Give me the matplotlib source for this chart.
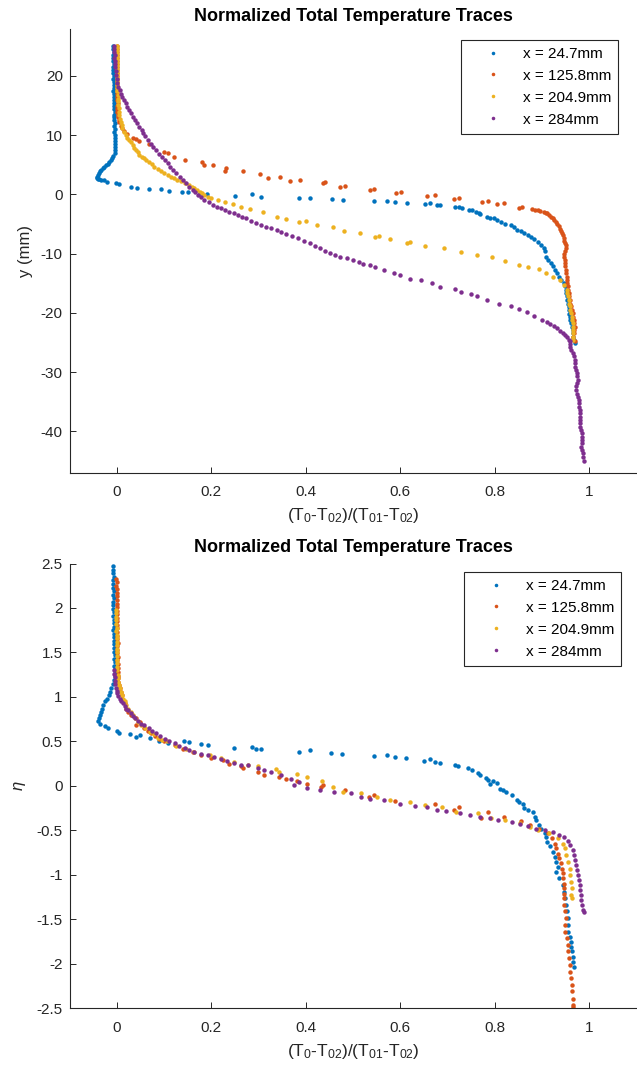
import numpy as np
import matplotlib
matplotlib.use('Agg')
import matplotlib.pyplot as plt
from matplotlib.ticker import FuncFormatter

# series labels and MATLAB default colours
labels = ['x = 24.7mm', 'x = 125.8mm', 'x = 204.9mm', 'x = 284mm']
colors = ['#0072BD', '#D95319', '#EDB120', '#7E2F8E']

# ---- top panel: (T0-T02)/(T01-T02) vs y (mm) ----
top_blue = [
    (-0.008, 25.0), (-0.009, 24.5), (-0.007, 24.0), (-0.008, 23.5), (-0.009, 23.0), (-0.008, 22.5),
    (-0.007, 22.0), (-0.008, 21.5), (-0.009, 21.0), (-0.008, 20.5), (-0.007, 20.0), (-0.008, 19.5),
    (-0.007, 19.0), (-0.006, 18.5), (-0.007, 18.0), (-0.008, 17.5), (-0.007, 17.0), (-0.006, 16.5),
    (-0.007, 16.0), (-0.006, 15.5), (-0.007, 15.0), (-0.006, 14.5), (-0.005, 14.0), (-0.006, 13.5),
    (-0.007, 13.0), (-0.006, 12.5), (-0.005, 12.0), (-0.006, 11.5), (-0.005, 11.0), (-0.006, 10.5),
    (-0.005, 10.0), (-0.004, 9.5), (-0.005, 9.0), (-0.004, 8.5), (-0.005, 8.0), (-0.004, 7.5),
    (-0.005, 7.0), (-0.008, 6.5), (-0.010, 6.1), (-0.013, 5.8), (-0.017, 5.5), (-0.020, 5.2),
    (-0.024, 5.0), (-0.027, 4.7), (-0.030, 4.4), (-0.033, 4.1), (-0.035, 3.9), (-0.038, 3.6),
    (-0.040, 3.3), (-0.042, 3.0), (-0.043, 2.8), (-0.041, 2.6), (-0.038, 2.6), (-0.033, 2.5),
    (-0.028, 2.4), (-0.021, 2.17), (-0.003, 1.88), (0.004, 1.72), (0.029, 1.32), (0.043, 1.15),
    (0.068, 0.93), (0.093, 0.87), (0.111, 0.65), (0.138, 0.37), (0.150, 0.48), (0.175, 0.20),
    (0.191, 0.08), (0.249, -0.20), (0.287, 0.03), (0.306, -0.37), (0.386, -0.65), (0.409, -0.53),
    (0.455, -0.76), (0.478, -0.87), (0.545, -1.10), (0.573, -1.04), (0.589, -1.21), (0.614, -1.38),
    (0.653, -1.60), (0.664, -1.49), (0.678, -1.77), (0.685, -1.83), (0.717, -2.05), (0.724, -2.17),
    (0.730, -2.30), (0.745, -2.62), (0.752, -2.67), (0.760, -2.90), (0.767, -3.18), (0.770, -3.35),
    (0.784, -3.74), (0.790, -3.90), (0.798, -4.02), (0.805, -4.30), (0.813, -4.58), (0.823, -4.92),
    (0.834, -5.15), (0.840, -5.50), (0.848, -5.99), (0.855, -6.20), (0.862, -6.55), (0.870, -6.90),
    (0.877, -7.12), (0.884, -7.50), (0.891, -7.96), (0.898, -8.50), (0.905, -9.09), (0.906, -9.60),
    (0.909, -10.5), (0.914, -11.0), (0.919, -11.6), (0.923, -12.1), (0.928, -12.7), (0.932, -13.3),
    (0.937, -13.9), (0.941, -14.4), (0.946, -15.0), (0.949, -15.5), (0.951, -16.1), (0.952, -16.6),
    (0.954, -17.2), (0.954, -17.8), (0.956, -18.4), (0.957, -19.0), (0.957, -19.5), (0.958, -20.1),
    (0.960, -20.6), (0.960, -21.2), (0.962, -21.7), (0.963, -22.3), (0.965, -22.9), (0.966, -23.4),
    (0.967, -24.0), (0.969, -24.6), (0.970, -25.0),
]
top_orange = [
    (0.000, 25.0), (-0.001, 24.5), (0.001, 24.0), (0.000, 23.5), (-0.001, 23.0), (0.000, 22.5),
    (0.001, 22.0), (0.000, 21.5), (-0.001, 21.0), (0.000, 20.5), (0.001, 20.0), (0.000, 19.5),
    (0.001, 19.0), (0.000, 18.5), (-0.001, 18.0), (0.000, 17.5), (0.001, 17.0), (0.000, 16.5),
    (0.001, 16.0), (0.002, 15.5), (0.001, 15.0), (0.000, 14.5), (0.001, 14.0), (0.002, 13.5),
    (0.003, 13.0), (0.004, 12.5), (0.005, 12.2), (0.008, 11.6), (0.011, 11.2), (0.015, 10.8),
    (0.022, 10.2), (0.033, 9.6), (0.040, 9.3), (0.047, 9.0), (0.068, 8.6), (0.100, 7.2),
    (0.107, 6.95), (0.121, 6.4), (0.143, 5.8), (0.180, 5.5), (0.185, 4.9), (0.203, 5.0),
    (0.228, 3.9), (0.231, 4.4), (0.267, 4.0), (0.302, 3.5), (0.320, 2.7), (0.345, 3.0),
    (0.366, 2.3), (0.387, 2.4), (0.437, 1.9), (0.440, 2.05), (0.472, 1.2), (0.483, 1.4),
    (0.536, 0.76), (0.545, 0.93), (0.591, 0.2), (0.601, 0.48), (0.657, -0.25), (0.674, -0.03),
    (0.713, -0.76), (0.724, -0.53), (0.774, -1.21), (0.786, -1.04), (0.804, -1.60), (0.820, -1.49),
    (0.852, -2.22), (0.857, -2.05), (0.880, -2.50), (0.886, -2.55), (0.891, -2.67), (0.897, -2.80),
    (0.904, -2.90), (0.908, -3.05), (0.912, -3.18), (0.916, -3.45), (0.920, -3.74), (0.923, -4.0),
    (0.926, -4.30), (0.930, -4.65), (0.933, -5.0), (0.936, -5.4), (0.939, -5.8), (0.941, -6.1),
    (0.943, -6.5), (0.945, -6.9), (0.946, -7.4), (0.948, -7.8), (0.950, -8.2), (0.951, -8.6),
    (0.951, -9.1), (0.950, -9.6), (0.948, -10.1), (0.948, -10.5), (0.949, -11.0), (0.949, -11.6),
    (0.950, -12.1), (0.951, -12.7), (0.952, -13.3), (0.953, -13.9), (0.953, -14.4), (0.953, -15.0),
    (0.955, -15.5), (0.956, -16.1), (0.957, -16.6), (0.958, -17.2), (0.959, -17.8), (0.960, -18.4),
    (0.962, -18.9), (0.963, -19.5), (0.965, -20.0), (0.967, -20.6), (0.968, -21.2), (0.969, -21.7),
    (0.970, -22.3), (0.969, -22.9), (0.968, -23.4), (0.967, -24.0), (0.970, -24.7),
]
top_yellow = [
    (0.000, 25.0), (0.001, 24.5), (0.000, 24.0), (-0.001, 23.5), (0.000, 23.0), (0.001, 22.5),
    (0.000, 22.0), (0.000, 21.5), (-0.001, 21.0), (0.000, 20.5), (0.001, 20.0), (0.000, 19.5),
    (0.000, 19.0), (0.001, 18.5), (0.001, 18.0), (0.001, 17.4), (0.002, 16.8), (0.002, 16.2),
    (0.003, 15.7), (0.003, 15.1), (0.004, 14.6), (0.004, 14.0), (0.005, 13.4), (0.007, 12.8),
    (0.008, 12.3), (0.010, 11.7), (0.011, 11.2), (0.014, 10.6), (0.018, 10.0), (0.022, 9.6),
    (0.026, 9.2), (0.030, 8.8), (0.033, 8.35), (0.037, 7.9), (0.040, 7.5), (0.044, 7.1),
    (0.047, 6.7), (0.052, 6.4), (0.057, 6.1), (0.062, 5.8), (0.068, 5.5), (0.074, 5.1),
    (0.079, 4.7), (0.086, 4.35), (0.093, 4.0), (0.100, 3.65), (0.107, 3.3), (0.114, 3.0),
    (0.121, 2.7), (0.128, 2.45), (0.136, 2.2), (0.144, 1.9), (0.153, 1.6), (0.158, 1.3),
    (0.164, 1.04), (0.170, 0.75), (0.175, 0.48), (0.180, 0.2), (0.185, -0.08), (0.192, -0.35),
    (0.199, -0.65), (0.213, -0.93), (0.228, -1.21), (0.245, -1.60), (0.263, -2.05), (0.281, -2.50),
    (0.309, -2.90), (0.338, -3.74), (0.359, -4.13), (0.386, -4.58), (0.400, -4.47), (0.423, -5.15),
    (0.458, -5.43), (0.481, -6.16), (0.515, -6.55), (0.547, -7.12), (0.556, -7.0), (0.579, -7.57),
    (0.614, -8.24), (0.621, -8.07), (0.653, -8.63), (0.692, -9.09), (0.728, -9.65), (0.763, -10.2),
    (0.795, -10.6), (0.821, -11.2), (0.852, -11.9), (0.871, -12.2), (0.894, -12.6), (0.909, -13.3),
    (0.923, -13.9), (0.939, -14.5), (0.948, -15.3), (0.953, -16.1), (0.954, -16.6), (0.956, -17.2),
    (0.957, -17.8), (0.958, -18.4), (0.959, -18.9), (0.960, -19.5), (0.961, -20.0), (0.963, -20.6),
    (0.964, -21.1), (0.965, -21.7), (0.966, -22.3), (0.967, -22.9), (0.967, -23.4), (0.967, -24.0),
    (0.966, -24.6),
]
top_purple = [
    (-0.006, 25.0), (-0.007, 24.5), (-0.006, 24.0), (-0.005, 23.5), (-0.006, 23.0), (-0.005, 22.5),
    (-0.004, 22.0), (-0.004, 21.5), (-0.003, 20.8), (-0.002, 20.2), (0.000, 19.5), (0.001, 18.8),
    (0.003, 18.2), (0.006, 17.6), (0.008, 17.0), (0.011, 16.5), (0.014, 15.9), (0.018, 15.4),
    (0.022, 14.8), (0.026, 14.3), (0.030, 13.7), (0.034, 13.1), (0.038, 12.5), (0.043, 12.0),
    (0.047, 11.4), (0.052, 10.9), (0.056, 10.3), (0.060, 9.8), (0.066, 9.2), (0.072, 8.6),
    (0.077, 8.0), (0.082, 7.5), (0.088, 6.9), (0.095, 6.4), (0.101, 5.8), (0.107, 5.3),
    (0.113, 4.7), (0.119, 4.1), (0.126, 3.6), (0.133, 3.0), (0.139, 2.4), (0.146, 1.9),
    (0.153, 1.3), (0.160, 0.76), (0.166, 0.35), (0.171, -0.08), (0.178, -0.5), (0.185, -0.93),
    (0.194, -1.35), (0.203, -1.77), (0.212, -2.05), (0.221, -2.33), (0.229, -2.6), (0.237, -2.90),
    (0.247, -3.2), (0.256, -3.46), (0.265, -3.75), (0.274, -4.02), (0.284, -4.45), (0.294, -4.87),
    (0.305, -5.15), (0.316, -5.43), (0.327, -5.7), (0.338, -5.99), (0.348, -6.35), (0.359, -6.72),
    (0.371, -7.05), (0.384, -7.4), (0.396, -7.8), (0.409, -8.24), (0.420, -8.65), (0.430, -9.09),
    (0.440, -9.5), (0.451, -9.93), (0.462, -10.2), (0.472, -10.5), (0.487, -10.8), (0.501, -11.1),
    (0.512, -11.4), (0.522, -11.7), (0.535, -11.95), (0.547, -12.2), (0.565, -12.7), (0.586, -13.2),
    (0.600, -13.6), (0.621, -14.2), (0.643, -14.4), (0.668, -15.0), (0.685, -15.6), (0.717, -16.0),
    (0.728, -16.4), (0.749, -16.8), (0.763, -17.2), (0.784, -17.8), (0.809, -18.4), (0.834, -18.8),
    (0.852, -19.4), (0.869, -19.9), (0.884, -20.5), (0.901, -21.2), (0.910, -21.5), (0.918, -21.9),
    (0.925, -22.2), (0.932, -22.6), (0.938, -23.0), (0.944, -23.4), (0.949, -23.8), (0.954, -24.1),
    (0.957, -24.5), (0.960, -24.8), (0.959, -25.2), (0.960, -25.7), (0.962, -26.2), (0.965, -26.8),
    (0.968, -27.3), (0.970, -27.9), (0.971, -28.5), (0.970, -29.1), (0.972, -29.6), (0.974, -30.2),
    (0.975, -30.7), (0.976, -31.3), (0.975, -31.9), (0.973, -32.4), (0.973, -33.0), (0.974, -33.6),
    (0.976, -34.1), (0.978, -34.7), (0.978, -35.2), (0.979, -35.8), (0.980, -36.4), (0.981, -36.9),
    (0.981, -37.5), (0.980, -38.1), (0.980, -38.6), (0.981, -39.2), (0.983, -39.8), (0.985, -40.3),
    (0.985, -40.9), (0.986, -41.4), (0.985, -42.0), (0.984, -42.6), (0.985, -43.1), (0.987, -43.7),
    (0.988, -44.3), (0.990, -44.9),
]

# ---- bottom panel: same quantity vs eta ----
bot_blue = [
    (-0.008, 2.47), (-0.009, 2.43), (-0.008, 2.39), (-0.007, 2.35), (-0.008, 2.31), (-0.009, 2.27),
    (-0.008, 2.23), (-0.007, 2.19), (-0.008, 2.15), (-0.007, 2.11), (-0.008, 2.07), (-0.009, 2.03),
    (-0.008, 1.99), (-0.007, 1.95), (-0.008, 1.91), (-0.007, 1.87), (-0.006, 1.83), (-0.007, 1.79),
    (-0.008, 1.75), (-0.007, 1.71), (-0.006, 1.67), (-0.007, 1.63), (-0.006, 1.59), (-0.007, 1.55),
    (-0.006, 1.51), (-0.005, 1.47), (-0.006, 1.43), (-0.005, 1.39), (-0.006, 1.35), (-0.005, 1.31),
    (-0.004, 1.27), (-0.005, 1.23), (-0.006, 1.19), (-0.008, 1.15), (-0.012, 1.10), (-0.015, 1.06),
    (-0.018, 1.02), (-0.022, 0.98), (-0.026, 0.95), (-0.029, 0.91), (-0.032, 0.87), (-0.034, 0.83),
    (-0.036, 0.80), (-0.039, 0.76), (-0.041, 0.73), (-0.036, 0.70), (-0.026, 0.67), (-0.019, 0.65),
    (-0.001, 0.62), (0.004, 0.60), (0.027, 0.58), (0.041, 0.55), (0.048, 0.57), (0.069, 0.54),
    (0.090, 0.50), (0.108, 0.48), (0.141, 0.50), (0.153, 0.49), (0.177, 0.47), (0.192, 0.46),
    (0.248, 0.43), (0.285, 0.44), (0.294, 0.42), (0.305, 0.41), (0.385, 0.38), (0.408, 0.40),
    (0.454, 0.37), (0.477, 0.36), (0.544, 0.34), (0.572, 0.35), (0.589, 0.32), (0.612, 0.31),
    (0.651, 0.28), (0.663, 0.30), (0.674, 0.27), (0.684, 0.26), (0.716, 0.23), (0.723, 0.22),
    (0.744, 0.20), (0.751, 0.18), (0.765, 0.14), (0.769, 0.12), (0.781, 0.09), (0.786, 0.07),
    (0.790, 0.02), (0.797, 0.05), (0.804, 0.03), (0.812, -0.03), (0.818, -0.05), (0.825, -0.065),
    (0.836, -0.10), (0.847, -0.16), (0.852, -0.18), (0.860, -0.20), (0.863, -0.25), (0.870, -0.27),
    (0.881, -0.29), (0.885, -0.35), (0.887, -0.38), (0.895, -0.44), (0.899, -0.48), (0.906, -0.53),
    (0.908, -0.57), (0.911, -0.63), (0.918, -0.68), (0.923, -0.74), (0.927, -0.80), (0.930, -0.85),
    (0.934, -0.91), (0.930, -0.97), (0.937, -1.04), (0.945, -1.11), (0.948, -1.19), (0.950, -1.26),
    (0.952, -1.34), (0.953, -1.41), (0.955, -1.49), (0.955, -1.56), (0.956, -1.64), (0.960, -1.70),
    (0.961, -1.75), (0.962, -1.81), (0.963, -1.86), (0.966, -1.92), (0.967, -1.98), (0.969, -2.04),
]
bot_orange = [
    (-0.002, 2.33), (-0.001, 2.29), (-0.002, 2.25), (-0.001, 2.21), (0.000, 2.17), (-0.001, 2.13),
    (0.000, 2.09), (-0.001, 2.05), (0.000, 2.01), (0.001, 1.97), (0.000, 1.93), (-0.001, 1.89),
    (0.000, 1.85), (0.001, 1.81), (0.000, 1.77), (0.001, 1.73), (0.000, 1.69), (0.001, 1.65),
    (0.002, 1.61), (0.001, 1.57), (0.000, 1.53), (0.001, 1.49), (0.002, 1.45), (0.001, 1.41),
    (0.002, 1.37), (0.002, 1.32), (0.002, 1.28), (0.002, 1.24), (0.002, 1.21), (0.003, 1.17),
    (0.004, 1.13), (0.006, 1.10), (0.008, 1.06), (0.010, 1.02), (0.011, 0.98), (0.016, 0.93),
    (0.020, 0.87), (0.023, 0.83), (0.030, 0.80), (0.041, 0.76), (0.048, 0.72), (0.041, 0.68),
    (0.058, 0.65), (0.065, 0.62), (0.072, 0.59), (0.080, 0.56), (0.090, 0.53), (0.100, 0.50),
    (0.122, 0.46), (0.139, 0.42), (0.160, 0.38), (0.178, 0.35), (0.199, 0.31), (0.224, 0.29),
    (0.238, 0.25), (0.262, 0.22), (0.266, 0.20), (0.298, 0.16), (0.312, 0.12), (0.343, 0.10),
    (0.357, 0.08), (0.382, 0.05), (0.403, 0.02), (0.437, 0.01), (0.433, -0.01), (0.484, -0.05),
    (0.544, -0.10), (0.533, -0.12), (0.589, -0.17), (0.674, -0.20), (0.724, -0.24), (0.713, -0.27),
    (0.786, -0.29), (0.820, -0.35), (0.772, -0.36), (0.855, -0.40), (0.874, -0.44), (0.895, -0.48),
    (0.913, -0.53), (0.922, -0.59), (0.927, -0.65), (0.930, -0.70), (0.934, -0.76), (0.937, -0.81),
    (0.941, -0.87), (0.943, -0.93), (0.944, -0.98), (0.944, -1.04), (0.946, -1.10), (0.948, -1.15),
    (0.946, -1.21), (0.946, -1.26), (0.948, -1.34), (0.950, -1.41), (0.952, -1.49), (0.950, -1.56),
    (0.950, -1.64), (0.953, -1.71), (0.955, -1.79), (0.955, -1.86), (0.957, -1.94), (0.959, -2.01),
    (0.960, -2.09), (0.962, -2.16), (0.963, -2.24), (0.964, -2.31), (0.966, -2.39), (0.966, -2.46),
    (0.967, -2.49),
]
bot_yellow = [
    (-0.003, 1.98), (-0.002, 1.94), (-0.003, 1.90), (-0.002, 1.86), (-0.002, 1.82), (-0.001, 1.78),
    (-0.002, 1.74), (-0.001, 1.70), (-0.001, 1.66), (0.000, 1.62), (-0.001, 1.58), (0.000, 1.54),
    (0.000, 1.50), (0.001, 1.46), (0.000, 1.42), (0.001, 1.38), (0.001, 1.34), (0.001, 1.30),
    (0.002, 1.25), (0.002, 1.21), (0.003, 1.17), (0.004, 1.13), (0.006, 1.10), (0.008, 1.06),
    (0.010, 1.02), (0.013, 0.98), (0.016, 0.95), (0.020, 0.91), (0.024, 0.87), (0.029, 0.83),
    (0.034, 0.80), (0.039, 0.76), (0.045, 0.72), (0.051, 0.68), (0.060, 0.65), (0.069, 0.61),
    (0.078, 0.58), (0.087, 0.54), (0.096, 0.52), (0.106, 0.50), (0.125, 0.45), (0.146, 0.41),
    (0.164, 0.38), (0.196, 0.35), (0.220, 0.31), (0.248, 0.27), (0.277, 0.24), (0.298, 0.22),
    (0.336, 0.19), (0.343, 0.16), (0.382, 0.13), (0.403, 0.10), (0.435, 0.05), (0.458, -0.01),
    (0.479, -0.07), (0.516, -0.08), (0.551, -0.12), (0.579, -0.16), (0.620, -0.18), (0.653, -0.22),
    (0.688, -0.24), (0.719, -0.29), (0.765, -0.31), (0.793, -0.36), (0.821, -0.38), (0.853, -0.42),
    (0.874, -0.46), (0.892, -0.50), (0.916, -0.53), (0.934, -0.59), (0.944, -0.65), (0.950, -0.70),
    (0.952, -0.78), (0.955, -0.85), (0.959, -0.93), (0.960, -1.00), (0.962, -1.08), (0.964, -1.15),
    (0.962, -1.23), (0.963, -1.26),
]
bot_purple = [
    (-0.006, 1.30), (-0.006, 1.26), (-0.005, 1.22), (-0.005, 1.18), (-0.004, 1.14), (-0.003, 1.10),
    (-0.001, 1.07), (0.001, 1.04), (0.003, 1.01), (0.006, 0.98), (0.009, 0.95), (0.013, 0.93),
    (0.016, 0.90), (0.020, 0.87), (0.024, 0.85), (0.029, 0.82), (0.034, 0.79), (0.039, 0.76),
    (0.045, 0.73), (0.051, 0.70), (0.058, 0.68), (0.067, 0.65), (0.075, 0.62), (0.083, 0.59),
    (0.092, 0.56), (0.101, 0.53), (0.111, 0.51), (0.122, 0.48), (0.132, 0.45), (0.143, 0.43),
    (0.153, 0.40), (0.164, 0.38), (0.178, 0.36), (0.192, 0.35), (0.206, 0.32), (0.220, 0.30),
    (0.234, 0.28), (0.248, 0.26), (0.262, 0.24), (0.277, 0.23), (0.298, 0.20), (0.312, 0.18),
    (0.326, 0.16), (0.347, 0.12), (0.368, 0.08), (0.385, 0.04), (0.375, 0.01), (0.403, -0.02),
    (0.431, -0.05), (0.459, -0.07), (0.495, -0.08), (0.516, -0.12), (0.537, -0.15), (0.565, -0.16),
    (0.600, -0.20), (0.632, -0.23), (0.656, -0.24), (0.677, -0.27), (0.698, -0.28), (0.727, -0.31),
    (0.748, -0.33), (0.769, -0.35), (0.790, -0.36), (0.807, -0.38), (0.836, -0.41), (0.853, -0.43),
    (0.871, -0.45), (0.888, -0.48), (0.906, -0.50), (0.923, -0.52), (0.937, -0.55), (0.948, -0.58),
    (0.955, -0.62), (0.960, -0.66), (0.966, -0.72), (0.968, -0.78), (0.971, -0.83), (0.973, -0.89),
    (0.974, -0.95), (0.976, -1.00), (0.978, -1.06), (0.980, -1.11), (0.981, -1.17), (0.983, -1.23),
    (0.983, -1.28), (0.985, -1.34), (0.987, -1.40), (0.990, -1.42),
]

top_series = [top_blue, top_orange, top_yellow, top_purple]
bot_series = [bot_blue, bot_orange, bot_yellow, bot_purple]

x_ticks = [0, 0.2, 0.4, 0.6, 0.8, 1]
top_y_ticks = [-40, -30, -20, -10, 0, 10, 20]
bot_y_ticks = [-2.5, -2, -1.5, -1, -0.5, 0, 0.5, 1, 1.5, 2, 2.5]

plt.rcParams['font.family'] = ['Liberation Sans', 'DejaVu Sans']
plt.rcParams['mathtext.fontset'] = 'custom'
plt.rcParams['mathtext.rm'] = 'Liberation Sans'
plt.rcParams['mathtext.it'] = 'Liberation Sans:italic'
plt.rcParams['axes.unicode_minus'] = False

ink = '#262626'
xlab = r'(T$_0$-T$_{02}$)/(T$_{01}$-T$_{02}$)'
title = 'Normalized Total Temperature Traces'

fig = plt.figure(figsize=(6.37, 10.71), dpi=100)
ax1 = fig.add_axes([0.1096, 0.5584, 0.8892, 0.4149])
ax2 = fig.add_axes([0.1096, 0.05855, 0.8892, 0.4153])


def style_axes(ax, yticks, ylim, ylabel, title_pad):
    ax.set_xlim(-0.1, 1.1)
    ax.set_ylim(*ylim)
    ax.set_xticks(x_ticks)
    ax.set_yticks(yticks)
    fmt = FuncFormatter(lambda v, p: '%g' % v)
    ax.xaxis.set_major_formatter(fmt)
    ax.yaxis.set_major_formatter(fmt)
    for s in ['top', 'right']:
        ax.spines[s].set_visible(False)
    for s in ['left', 'bottom']:
        ax.spines[s].set_color(ink)
        ax.spines[s].set_linewidth(0.8)
    ax.tick_params(axis='both', direction='in', length=4.3, width=0.7,
                   colors=ink, labelsize=11)
    ax.tick_params(axis='x', pad=9)
    ax.tick_params(axis='y', pad=5)
    ax.set_xlabel(xlab, fontsize=12.5, color=ink, labelpad=5)
    ax.set_ylabel(ylabel, fontsize=12, color=ink, labelpad=6)
    ax.set_title(title, fontsize=13, fontweight='bold', pad=title_pad)


def draw(ax, series, bbox):
    for pts, c, lab in zip(series, colors, labels):
        arr = np.array(pts)
        ax.plot(arr[:, 0], arr[:, 1], 'o', ms=3.2, mew=0, color=c, label=lab)
    leg = ax.legend(loc='upper left', bbox_to_anchor=bbox, bbox_transform=fig.transFigure,
                    borderaxespad=0, fontsize=11, handlelength=3.27, handletextpad=0.33,
                    borderpad=0.45, labelspacing=0.52, fancybox=False, framealpha=1,
                    edgecolor=ink, markerscale=0.8)
    leg.get_frame().set_linewidth(0.8)


draw(ax1, top_series, (460.7 / 637, 1 - 40 / 1071))
draw(ax2, bot_series, (464 / 637, 1 - 572 / 1071))
style_axes(ax1, top_y_ticks, (-47, 28), 'y (mm)', 5.8)
style_axes(ax2, bot_y_ticks, (-2.5, 2.5), r'$\eta$', 8.5)

fig.savefig('out.png', dpi=100)
plt.close(fig)
